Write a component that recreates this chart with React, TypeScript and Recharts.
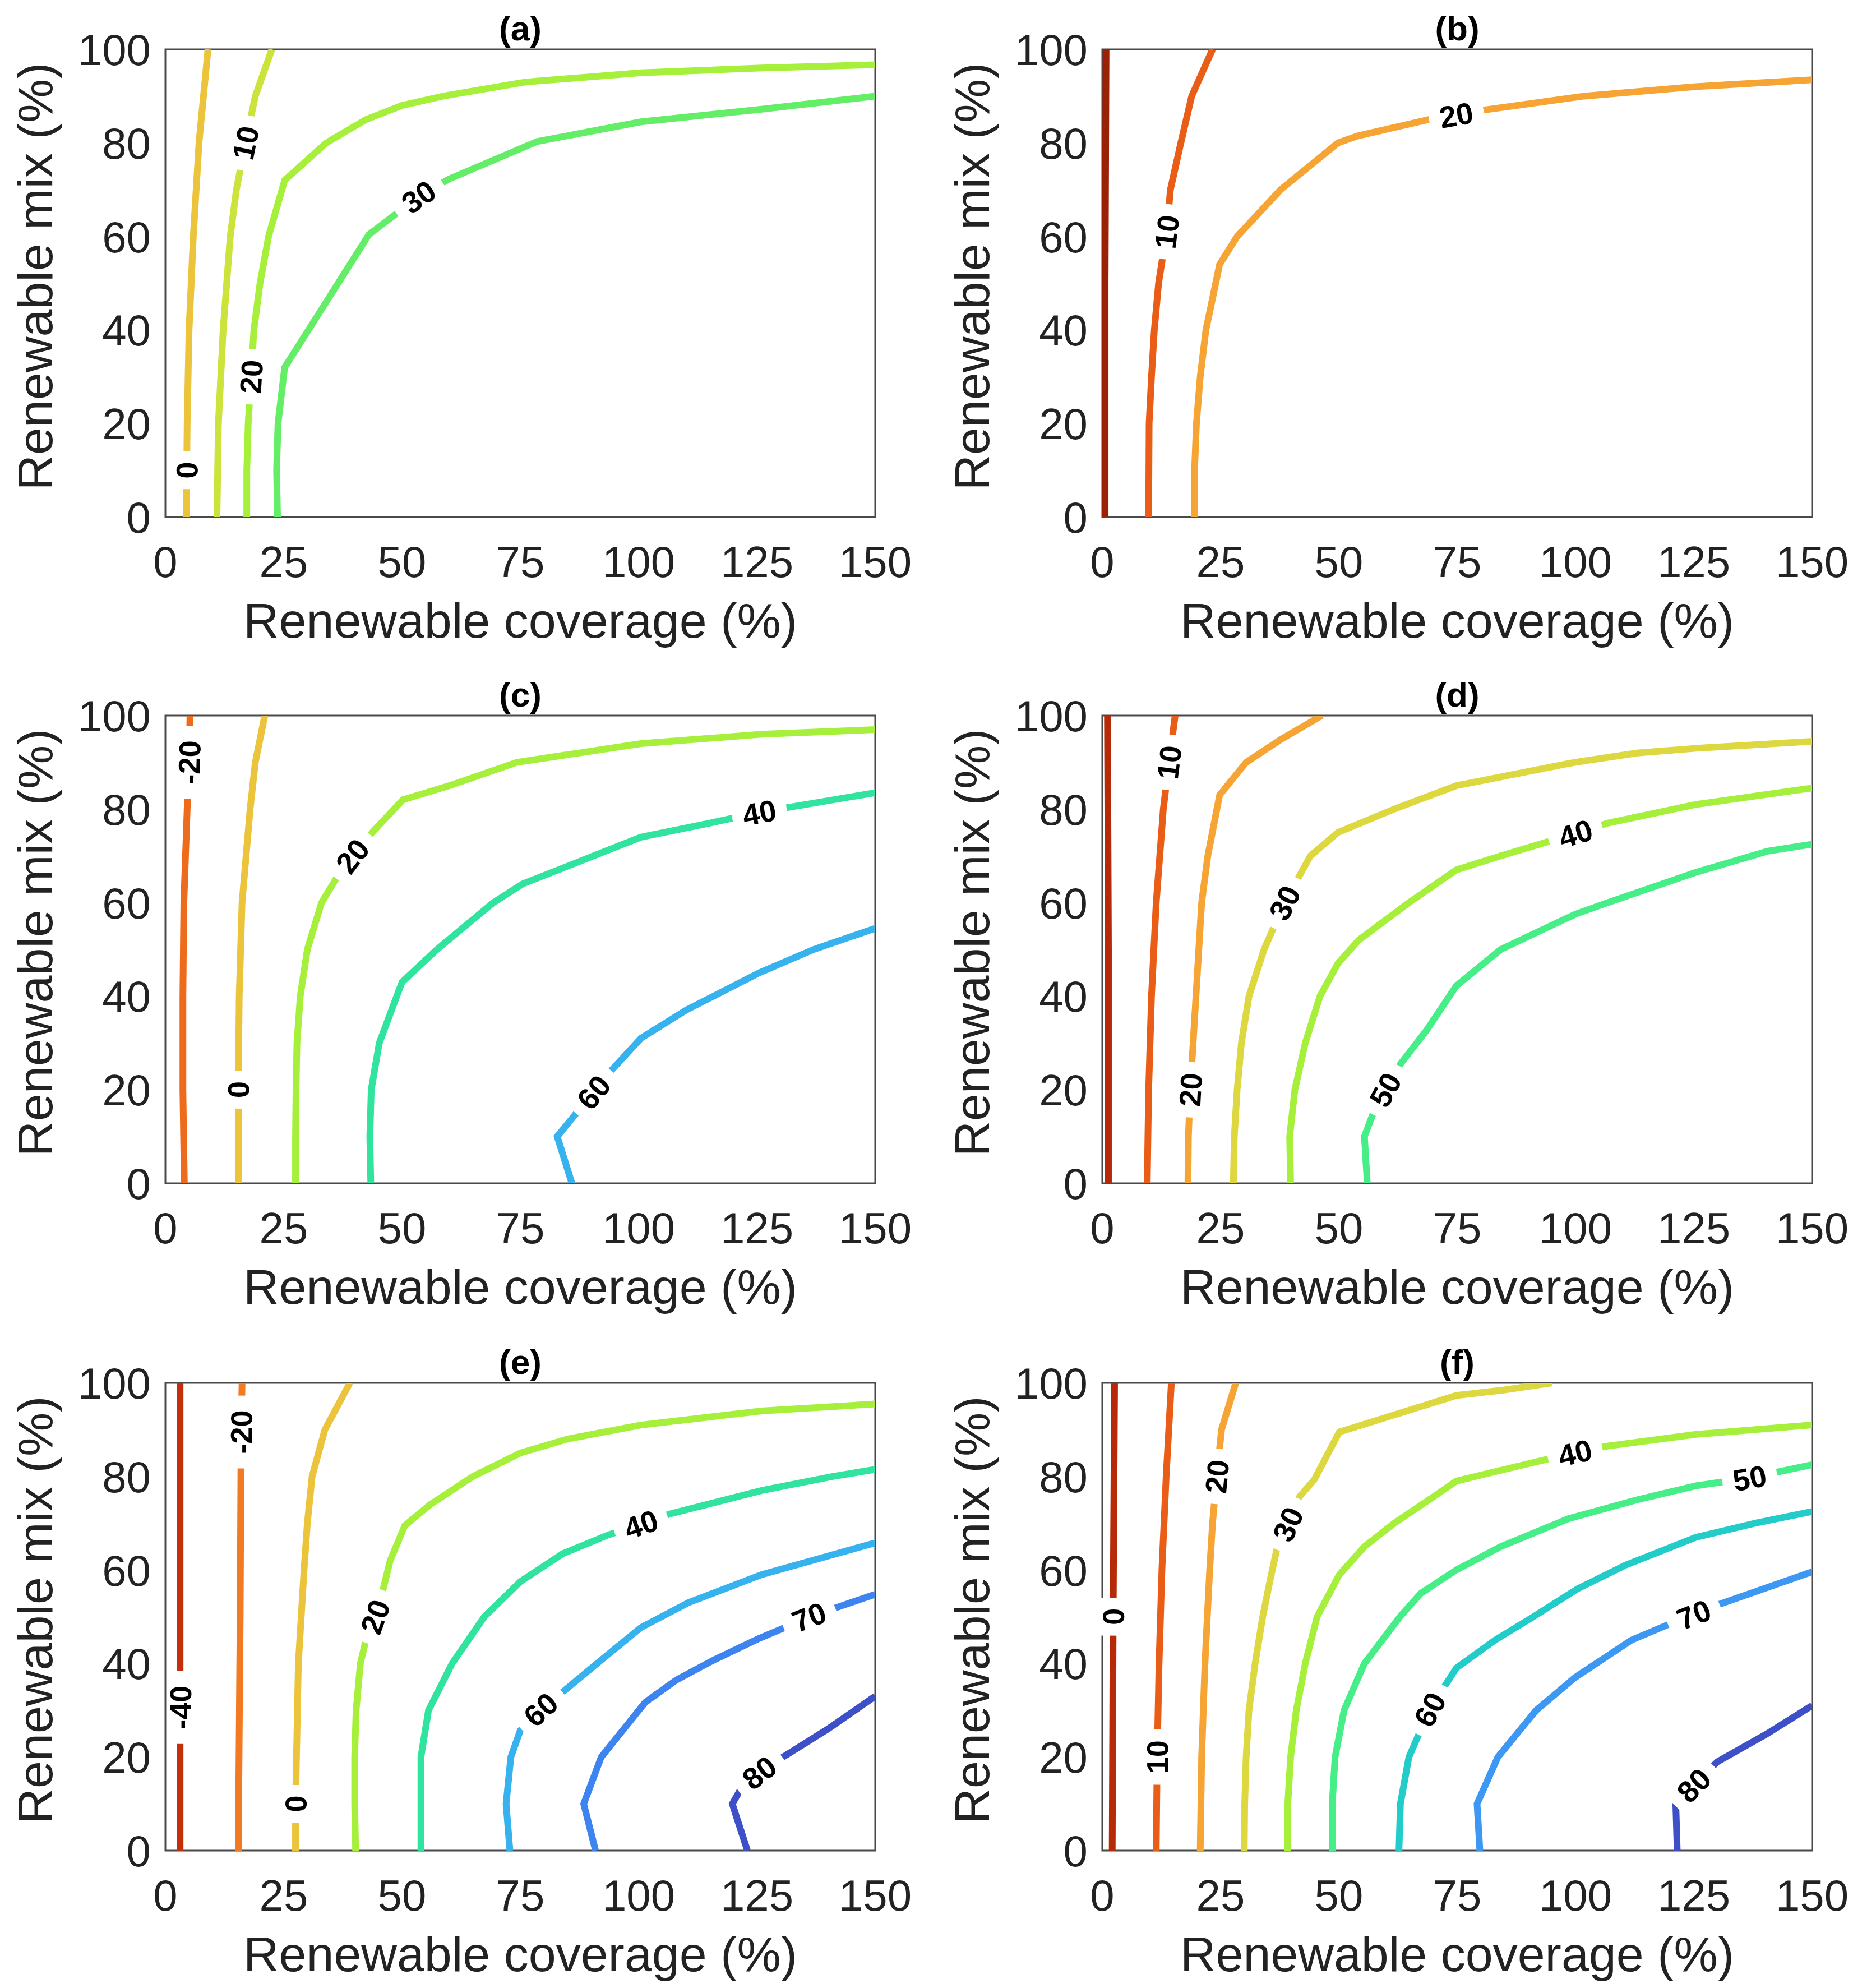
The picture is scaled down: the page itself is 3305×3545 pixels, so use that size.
import React from 'react';
import { LineChart, Line, XAxis, YAxis, ReferenceArea, Label } from 'recharts';

// contour lines: [renewable coverage %, renewable mix %]
const A_0 = [[4.4, 0], [4.5, 10], [4.6, 20], [5, 40], [5.9, 60], [7.1, 80], [9, 100]];
const A_10 = [[10.9, 0], [11.2, 20], [12.2, 40], [13.7, 60], [15, 70], [16.9, 80], [19, 90], [22.5, 100]];
const A_20 = [[17.2, 0], [17.2, 10], [17.5, 20], [18.1, 30], [18.7, 40], [20, 50], [21.8, 60], [25.2, 72], [34, 80], [42.4, 85], [50, 88], [58.7, 90], [76, 93], [100.5, 95], [126, 96], [150, 96.7]];
const A_30 = [[23.7, 0], [23.5, 10], [23.8, 20], [25.2, 32], [34, 46], [43, 60.4], [53.5, 68.5], [60, 72.3], [78.6, 80.3], [100.5, 84.5], [126, 87.2], [150, 90]];

const B_0 = [[0.6, 0], [0.6, 50], [0.8, 100]];
const B_10 = [[9.8, 0], [9.9, 20], [10.4, 30], [11, 40], [11.9, 50], [13.6, 61], [14.4, 70], [16.6, 80], [18.9, 90], [23.3, 100]];
const B_20 = [[19.5, 0], [19.5, 10], [19.9, 20], [20.7, 30], [21.9, 40], [24.8, 54], [28.5, 60], [37.7, 70], [49.8, 80], [54, 81.5], [69, 85], [74.8, 86], [80.5, 87], [101.8, 90], [125, 92], [150, 93.5]];

const C_M20 = [[4, 0], [3.7, 20], [3.7, 40], [3.9, 60], [4.6, 80], [5, 90], [5.2, 100]];
const C_0 = [[15.4, 0], [15.4, 20], [15.6, 40], [16.2, 60], [17.9, 80], [19, 90], [21, 100]];
const C_20 = [[27.5, 0], [27.5, 10], [27.6, 20], [27.8, 30], [28.5, 40], [30, 50], [33, 60], [36, 65], [39.5, 70], [43.7, 75], [50.2, 82], [60, 85], [74.3, 90], [100.5, 94], [126, 96], [150, 97]];
const C_40 = [[43.4, 0], [43.2, 10], [43.5, 20], [45.2, 30], [50, 43], [57.4, 50], [69.3, 60], [75.5, 64], [90.5, 70], [100.5, 74], [115, 77], [125.5, 79.3], [150, 83.5]];
const C_60 = [[85.9, 0], [82.8, 10], [90.5, 19.5], [94.3, 24.2], [100.5, 31], [110, 37], [125.5, 45], [137, 50], [150, 54.5]];

const D_0 = [[1.3, 0], [1.3, 50], [1.1, 100]];
const D_10 = [[9.5, 0], [9.8, 20], [10.4, 40], [11.4, 60], [12.9, 80], [14.1, 90], [15.4, 100]];
const D_20 = [[18.1, 0], [18.2, 10], [18.6, 20], [19.8, 40], [21, 60], [22.3, 70], [24.8, 83], [30.4, 90], [37.9, 95], [46.4, 100]];
const D_30 = [[27.7, 0], [27.9, 10], [28.5, 20], [29.4, 30], [31, 40], [34.2, 50], [38.5, 60], [44, 70], [49.8, 75], [61.7, 80], [74.8, 85], [99.9, 90], [113, 92], [125.5, 93], [150, 94.5]];
const D_40 = [[39.8, 0], [39.6, 10], [40.7, 20], [42.9, 30], [46, 40], [49.8, 47], [54.2, 52], [64.8, 60], [74.8, 67], [84.2, 70], [100, 74.8], [106.8, 77], [125.5, 81], [150, 84.5]];
const D_50 = [[56, 0], [55.4, 10], [57, 14.3], [59.8, 20], [63, 25.5], [68.6, 32.8], [74.8, 42.2], [84.2, 50], [99.9, 57.5], [106.8, 60], [125.5, 66.5], [140.6, 71], [150, 72.5]];

const E_M40 = [[3.1, 0], [3.1, 30.6], [3.1, 100]];
const E_M20 = [[15.4, 0], [15.8, 50], [16, 89.5], [16.2, 100]];
const E_0 = [[27.5, 0], [27.5, 10], [27.7, 20], [28.1, 40], [28.7, 50], [29.3, 60], [30, 70], [31, 80], [33.7, 90], [39, 100]];
const E_20 = [[40.2, 0], [40, 10], [40, 20], [40.3, 30], [41.2, 40], [42.6, 46], [44.3, 50], [45.8, 55], [47.5, 62], [50.6, 69.5], [56, 74], [65, 80], [75, 85], [85, 88], [100.5, 91], [126, 94], [150, 95.5]];
const E_40 = [[54, 0], [54, 10], [54, 20], [55.6, 30], [60.6, 40], [67.4, 50], [75, 57.5], [84, 63.5], [93.6, 67.5], [100.5, 69.8], [106.7, 72], [126, 77], [141, 80], [150, 81.5]];
const E_60 = [[72.8, 0], [72, 10], [73, 20], [75, 25.7], [79.3, 30.2], [84.3, 34.2], [92.4, 41], [100.5, 47.7], [110.5, 53], [126, 59], [150, 65.8]];
const E_70 = [[90.9, 0], [88.4, 10], [92.1, 20], [101.4, 31.7], [108, 36.5], [116, 40.8], [125.1, 45.2], [130.7, 47.6], [136, 50], [141.9, 52], [150, 54.8]];
const E_80 = [[123, 0], [119.8, 10], [121.5, 13], [125.5, 16.7], [130.5, 20], [140, 26], [150, 33]];

const F_0 = [[2.1, 0], [2.3, 50], [2.6, 100]];
const F_10 = [[11.4, 0], [11.6, 20], [12, 40], [12.6, 60], [13.5, 80], [14.6, 100]];
const F_20 = [[20.7, 0], [21, 20], [21.7, 40], [22.7, 60], [23.3, 70], [24.2, 80], [25.2, 90], [28.2, 100]];
const F_30 = [[30, 0], [30.1, 10], [30.4, 20], [31, 30], [32.3, 40], [33.9, 50], [35.5, 58], [37, 65], [39.2, 69.8], [41.7, 75.7], [44.8, 79.3], [50.1, 89.5], [74.8, 97.3], [85, 98.5], [95, 100]];
const F_40 = [[39.2, 0], [39.2, 10], [39.8, 20], [41, 30], [42.9, 40], [45.4, 50], [50.1, 59], [55.4, 65], [61.7, 70], [70.5, 76], [74.8, 79], [82.9, 81], [99.9, 85.1], [106.8, 86.5], [125.5, 89], [150, 91]];
const F_50 = [[48.6, 0], [48.6, 10], [49.2, 20], [51.1, 30], [55.4, 40], [62.9, 50], [67.3, 55], [74.8, 60], [84.2, 65], [98.6, 71], [113, 75], [125.5, 78], [136.8, 79.7], [150, 82.5]];
const F_60 = [[62.7, 0], [63, 10], [64.8, 20], [69.2, 30.2], [74.8, 39], [83, 45], [91.1, 50], [100.5, 56], [110.5, 61], [125.5, 67], [138, 70], [150, 72.5]];
const F_70 = [[79.8, 0], [79.2, 10], [83.6, 20], [91.7, 30], [99.9, 37], [111.8, 45], [119.3, 48.2], [125, 50.5], [130.5, 52.7], [150, 59.6]];
const F_80 = [[121.5, 0], [121.2, 10], [125, 14], [130, 19], [140.5, 25], [150, 31]];

// contour level text and the point on each line where it is written (-1 = none)
const A_LEVELS = ['0', '10', '20', '30'];
const A_LABEL_AT = [1, 5, 3, 6];
const B_LEVELS = ['0', '10', '20'];
const B_LABEL_AT = [-1, 5, 11];
const C_LEVELS = ['-20', '0', '20', '40', '60'];
const C_LABEL_AT = [5, 1, 8, 11, 2];
const D_LEVELS = ['0', '10', '20', '30', '40', '50'];
const D_LABEL_AT = [-1, 5, 2, 6, 10, 3];
const E_LEVELS = ['-40', '-20', '0', '20', '40', '60', '70', '80'];
const E_LABEL_AT = [1, 2, 1, 6, 9, 4, 8, 3];
const F_LEVELS = ['0', '10', '20', '30', '40', '50', '60', '70', '80'];
const F_LABEL_AT = [1, 1, 5, 8, 12, 12, 3, 7, 2];

const X_TICKS = [0, 25, 50, 75, 100, 125, 150];
const Y_TICKS = [0, 20, 40, 60, 80, 100];

const DARK_RED = '#B72A08';
const RED_ORANGE = '#EA5D17';
const ORANGE = '#F6A434';
const AMBER = '#EBC43C';
const YELLOW = '#DDD840';
const LIME = '#A6F03C';
const GREEN = '#46EE88';
const TEAL = '#30E4A0';
const CYAN = '#22CCC8';
const SKY = '#36B2EE';
const BLUE = '#3D84F0';
const INDIGO = '#3E50C8';

const PANELS = [
  { title: '(a)', lines: [A_0, A_10, A_20, A_30], levels: A_LEVELS, labelAt: A_LABEL_AT, colors: [AMBER, '#CBE33A', LIME, '#64EE68'] },
  { title: '(b)', lines: [B_0, B_10, B_20], levels: B_LEVELS, labelAt: B_LABEL_AT, colors: ['#9A2006', RED_ORANGE, ORANGE] },
  { title: '(c)', lines: [C_M20, C_0, C_20, C_40, C_60], levels: C_LEVELS, labelAt: C_LABEL_AT, colors: ['#EE6B1C', AMBER, LIME, TEAL, SKY] },
  { title: '(d)', lines: [D_0, D_10, D_20, D_30, D_40, D_50], levels: D_LEVELS, labelAt: D_LABEL_AT, colors: [DARK_RED, RED_ORANGE, ORANGE, YELLOW, LIME, GREEN] },
  { title: '(e)', lines: [E_M40, E_M20, E_0, E_20, E_40, E_60, E_70, E_80], levels: E_LEVELS, labelAt: E_LABEL_AT, colors: ['#C4300C', '#F27A22', AMBER, LIME, TEAL, SKY, BLUE, INDIGO] },
  { title: '(f)', lines: [F_0, F_10, F_20, F_30, F_40, F_50, F_60, F_70, F_80], levels: F_LEVELS, labelAt: F_LABEL_AT, colors: [DARK_RED, RED_ORANGE, ORANGE, YELLOW, LIME, GREEN, CYAN, '#3C98F2', INDIGO] },
];

const PLOT_W = 1266;
const PLOT_H = 834;
const MT = 88;
const YW = 295;
const XH = 240;
const FONT = '"Liberation Sans", Arial, Helvetica, sans-serif';
const TXT = '#222';
const LABEL_FS = 54;
const TICK_FS = 78;
const AXIS_FS = 88;

const ContourLabel = (p: any) => {
  const { x, y, index, pts, at, text } = p;
  if (index !== at || x == null || y == null) return null;
  const a = pts[Math.max(0, at - 1)];
  const b = pts[Math.min(pts.length - 1, at + 1)];
  const dx = (b[0] - a[0]) * PLOT_W / 150;
  const dy = -(b[1] - a[1]) * PLOT_H / 100;
  let ang = Math.atan2(dy, dx) * 180 / Math.PI;
  if (ang > 90) ang -= 180;
  if (ang < -90) ang += 180;
  const w = text.length * 0.58 * LABEL_FS + 36;
  return (
    <g transform={`translate(${x},${y}) rotate(${ang})`}>
      <rect x={-w / 2} y={-LABEL_FS * 0.42} width={w} height={LABEL_FS * 0.84} fill="#fff" />
      <text textAnchor="middle" dy="0.36em" fontSize={LABEL_FS} fontWeight="bold" fontFamily={FONT} fill="#000">
        {text}
      </text>
    </g>
  );
};

const Panel = ({ panel, left, top, mr }: any) => {
  const chartW = YW + PLOT_W + mr;
  const chartH = MT + PLOT_H + XH;
  const plotBottom = MT + PLOT_H;
  return (
    <div style={{ position: 'absolute', left, top, width: chartW, height: chartH }}>
      <div
        style={{
          position: 'absolute', left: YW, top: 16, width: PLOT_W, textAlign: 'center',
          fontFamily: FONT, fontWeight: 'bold', fontSize: 62, lineHeight: '70px', color: '#000',
        }}
      >
        {panel.title}
      </div>
      <LineChart width={chartW} height={chartH} margin={{ top: MT, right: mr, bottom: 0, left: 0 }}>
        <XAxis
          type="number" dataKey="x" domain={[0, 150]} ticks={X_TICKS} interval={0} allowDataOverflow
          axisLine={false} tickLine={false} height={XH}
          tick={(t: any) => (
            <text x={t.x} y={plotBottom + 79} dy="0.36em" textAnchor="middle" fontSize={TICK_FS} fontFamily={FONT} fill={TXT}>
              {t.payload.value}
            </text>
          )}
        >
          <Label
            content={() => (
              <text x={YW + PLOT_W / 2} y={plotBottom + 183} dy="0.36em" textAnchor="middle" fontSize={AXIS_FS} fontFamily={FONT} fill={TXT}>
                Renewable coverage (%)
              </text>
            )}
          />
        </XAxis>
        <YAxis
          type="number" domain={[0, 100]} ticks={Y_TICKS} interval={0} allowDataOverflow
          axisLine={false} tickLine={false} width={YW}
          tick={(t: any) => (
            <text x={YW - 26} y={t.y} dy="0.36em" textAnchor="end" fontSize={TICK_FS} fontFamily={FONT} fill={TXT}>
              {t.payload.value}
            </text>
          )}
        >
          <Label
            content={() => {
              const cx = YW - 234;
              const cy = MT + PLOT_H / 2 - 12;
              return (
                <text x={cx} y={cy} dy="0.36em" textAnchor="middle" fontSize={AXIS_FS} fontFamily={FONT} fill={TXT} transform={`rotate(-90 ${cx} ${cy})`}>
                  Renewable mix (%)
                </text>
              );
            }}
          />
        </YAxis>
        {panel.lines.map((pts: number[][], i: number) => (
          <Line
            key={panel.title + i}
            data={pts.map(([x, y]) => ({ x, y }))}
            dataKey="y"
            type="linear"
            stroke={panel.colors[i]}
            strokeWidth={12}
            dot={false}
            activeDot={false}
            isAnimationActive={false}
            label={(p: any) => (
              <ContourLabel key={i + '-' + p.index} {...p} pts={pts} at={panel.labelAt[i]} text={panel.levels[i]} />
            )}
          />
        ))}
        <ReferenceArea x1={0} x2={150} y1={0} y2={100} fill="none" stroke="#4a4a4a" strokeWidth={3} ifOverflow="visible" />
      </LineChart>
    </div>
  );
};

const ROW_TOPS = [0, 1188, 2378];

export default function App() {
  return (
    <div style={{ position: 'absolute', left: 0, top: 0, width: 3305, height: 3545, background: '#fff' }}>
      {PANELS.map((panel, i) => {
        const col = i % 2;
        const row = Math.floor(i / 2);
        return (
          <Panel
            key={panel.title}
            panel={panel}
            left={col === 0 ? 0 : 1671}
            top={ROW_TOPS[row]}
            mr={col === 0 ? 90 : 73}
          />
        );
      })}
    </div>
  );
}
